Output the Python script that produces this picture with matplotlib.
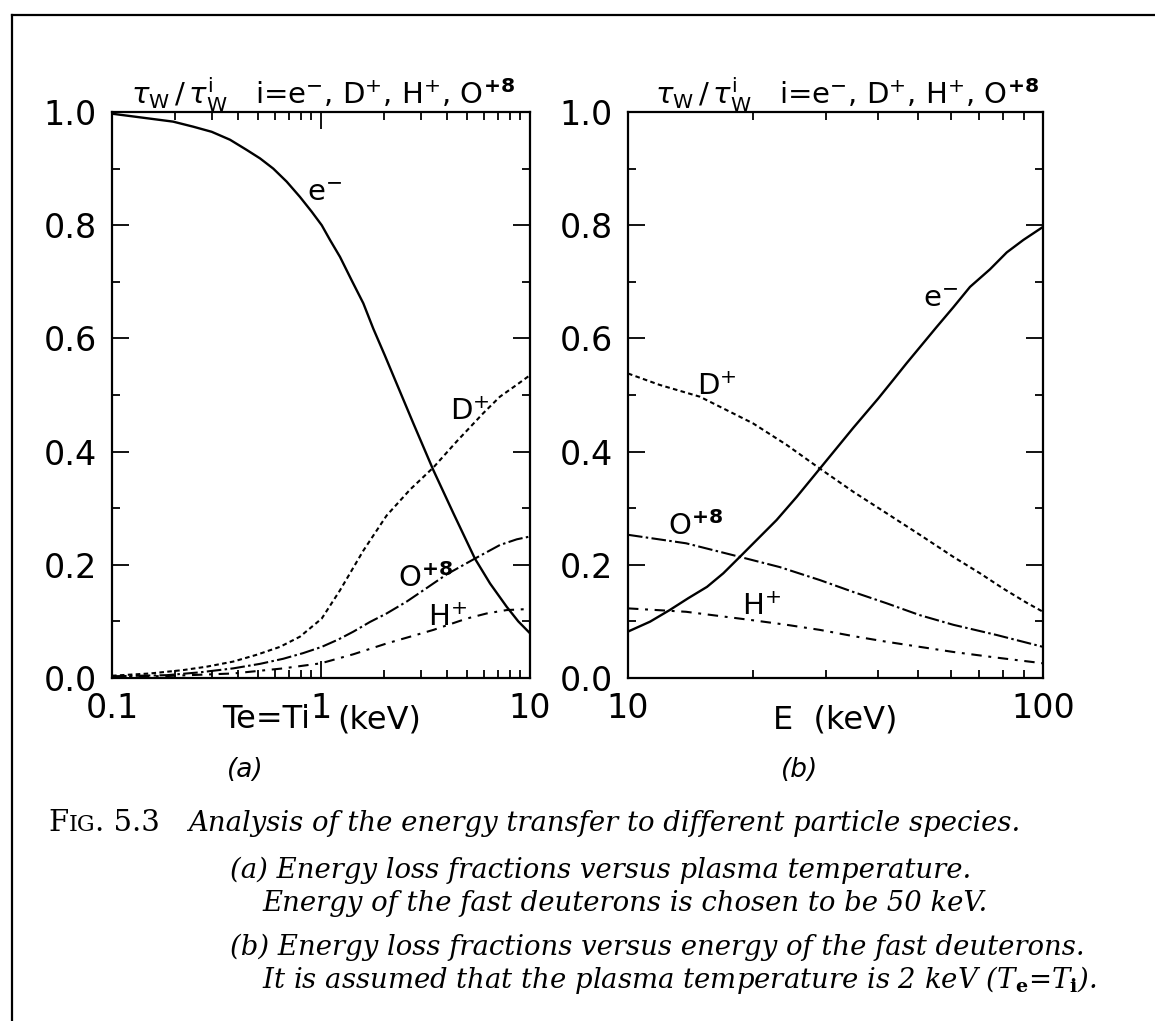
import numpy as np
import matplotlib
matplotlib.use('Agg')
import matplotlib.pyplot as plt
from matplotlib.ticker import MultipleLocator, LogLocator, FixedLocator, FuncFormatter, NullFormatter, FormatStrFormatter
from matplotlib.lines import Line2D

plt.rcParams['font.family'] = 'DejaVu Sans'
plt.rcParams['mathtext.fontset'] = 'dejavusans'

# (a) energy loss fractions vs plasma temperature Te=Ti (keV), E = 50 keV
temp_e = [0.1, 0.196, 0.245, 0.30, 0.367, 0.441, 0.511, 0.591, 0.685, 0.793, 0.902, 1.008,
          1.104, 1.233, 1.40, 1.594, 1.78, 2.02, 2.26, 2.765, 3.45, 4.30, 5.45, 6.44,
          7.73, 8.79, 10.0]
elec_a = [0.997, 0.983, 0.974, 0.965, 0.951, 0.933, 0.918, 0.900, 0.877, 0.850, 0.824, 0.800,
          0.774, 0.744, 0.703, 0.662, 0.617, 0.570, 0.527, 0.450, 0.367, 0.291, 0.211, 0.167,
          0.126, 0.100, 0.079]

temp_d = [0.1, 0.152, 0.219, 0.284, 0.38, 0.492, 0.636, 0.793, 1.008, 1.233, 1.594, 2.06,
          2.67, 3.45, 4.46, 5.98, 7.18, 8.64, 10.0]
deut_a = [0.004, 0.008, 0.014, 0.020, 0.029, 0.041, 0.055, 0.073, 0.105, 0.155, 0.225, 0.287,
          0.333, 0.372, 0.418, 0.468, 0.497, 0.518, 0.535]

temp_o = [0.1, 0.183, 0.263, 0.38, 0.511, 0.66, 0.822, 1.008, 1.21, 1.43, 1.715, 2.06,
          2.57, 3.09, 3.99, 5.45, 7.18, 8.64, 10.0]
oxy_a = [0.003, 0.005, 0.010, 0.017, 0.025, 0.034, 0.044, 0.055, 0.068, 0.082, 0.099, 0.114,
         0.135, 0.155, 0.183, 0.211, 0.235, 0.245, 0.250]

temp_h = [0.1, 0.183, 0.38, 0.66, 1.0, 1.43, 2.06, 2.67, 3.45, 4.98, 6.2, 7.73, 10.0]
hyd_a = [0.002, 0.0035, 0.008, 0.017, 0.026, 0.042, 0.061, 0.073, 0.085, 0.105, 0.114, 0.120, 0.122]

# (b) energy loss fractions vs fast deuteron energy E (keV), T = 2 keV
en_e = [10.0, 11.3, 12.6, 13.97, 15.5, 16.97, 18.6, 22.8, 25.5, 29.0, 34.9, 40.1, 43.6,
        46.9, 55.4, 60.8, 66.7, 74.5, 81.8, 89.7, 100.0]
elec_b = [0.082, 0.0995, 0.120, 0.141, 0.161, 0.185, 0.214, 0.279, 0.320, 0.370, 0.442, 0.494,
          0.527, 0.556, 0.620, 0.655, 0.691, 0.722, 0.752, 0.774, 0.797]

en_d = [10.0, 11.9, 14.9, 20.0, 24.1, 29.0, 34.9, 42.0, 50.5, 60.8, 70.5, 80.2, 91.3, 100.0]
deut_b = [0.538, 0.518, 0.497, 0.450, 0.412, 0.370, 0.329, 0.291, 0.253, 0.214, 0.185, 0.158,
          0.133, 0.117]

en_o = [10.0, 13.8, 18.6, 23.2, 29.0, 34.9, 42.0, 50.5, 60.8, 77.3, 100.0]
oxy_b = [0.253, 0.238, 0.214, 0.196, 0.173, 0.152, 0.132, 0.111, 0.094, 0.076, 0.055]

en_h = [10.0, 13.8, 20.0, 24.1, 29.0, 34.9, 42.0, 50.5, 60.8, 77.3, 100.0]
hyd_b = [0.123, 0.117, 0.102, 0.094, 0.085, 0.074, 0.064, 0.055, 0.046, 0.036, 0.026]

title = (r'$\tau_{\mathrm{W}}\,/\,\tau_{\mathrm{W}}^{\mathrm{i}}$   i=e$^{-}$, '
         r'D$^{+}$, H$^{+}$, O$^{\mathbf{+8}}$')

dash_d = (0, (2.2, 1.6))
dash_o = (0, (7, 1.6, 1.2, 1.6))
dash_h = (0, (5, 3.2, 1.4, 3.2))

W, H = 1155, 1021
fig = plt.figure(figsize=(W / 100, H / 100), dpi=100)


def box(x0, y0, x1, y1):
    return [x0 / W, 1 - y1 / H, (x1 - x0) / W, (y1 - y0) / H]


def style_axes(ax, tx):
    for s in ax.spines.values():
        s.set_linewidth(1.6)
    ax.set_ylim(0, 1)
    ax.yaxis.set_major_locator(MultipleLocator(0.2))
    ax.yaxis.set_minor_locator(MultipleLocator(0.1))
    ax.yaxis.set_major_formatter(FormatStrFormatter('%.1f'))
    ax.xaxis.set_minor_locator(LogLocator(base=10, subs=np.arange(2, 10)))
    ax.xaxis.set_minor_formatter(NullFormatter())
    ax.xaxis.set_major_formatter(FuncFormatter(lambda v, p: '%g' % v))
    ax.tick_params(which='both', direction='in', top=True, right=True,
                   width=1.3, labelsize=24)
    ax.tick_params(which='major', length=12)
    ax.tick_params(which='minor', length=6)
    ax.tick_params(axis='x', which='both', pad=10)
    ax.tick_params(axis='y', which='both', pad=11)
    ax.text(tx, 1.014, title, transform=ax.transAxes, fontsize=21,
            ha='left', va='baseline')


# panel (a)
ax1 = fig.add_axes(box(112, 112, 530, 678))
ax1.set_xscale('log')
ax1.set_xlim(0.1, 10)
ax1.xaxis.set_major_locator(FixedLocator([0.1, 1, 10]))
style_axes(ax1, 0.045)
ax1.plot(temp_e, elec_a, color='black', lw=1.7)
ax1.plot(temp_d, deut_a, color='black', lw=1.5, ls=dash_d)
ax1.plot(temp_o, oxy_a, color='black', lw=1.5, ls=dash_o)
ax1.plot(temp_h, hyd_a, color='black', lw=1.5, ls=dash_h)
ax1.text(0.854, 0.842, r'e$^{-}$', fontsize=21)
ax1.text(4.14, 0.456, r'D$^{+}$', fontsize=21)
ax1.text(2.34, 0.161, r'O$^{\mathbf{+8}}$', fontsize=21)
ax1.text(3.26, 0.091, r'H$^{+}$', fontsize=21)
xt = ax1.get_xaxis_transform()
ax1.text(0.89, -0.046, 'Te=Ti', transform=xt, fontsize=23, ha='right', va='top')
ax1.text(1.2, -0.046, '(keV)', transform=xt, fontsize=23, ha='left', va='top')
ax1.text(0.318, -0.163, '(a)', transform=ax1.transAxes, fontsize=19,
         style='italic', ha='center', va='center')

# panel (b)
ax2 = fig.add_axes(box(628, 112, 1043, 678))
ax2.set_xscale('log')
ax2.set_xlim(10, 100)
ax2.xaxis.set_major_locator(FixedLocator([10, 100]))
style_axes(ax2, 0.065)
ax2.plot(en_e, elec_b, color='black', lw=1.7)
ax2.plot(en_d, deut_b, color='black', lw=1.5, ls=dash_d)
ax2.plot(en_o, oxy_b, color='black', lw=1.5, ls=dash_o)
ax2.plot(en_h, hyd_b, color='black', lw=1.5, ls=dash_h)
ax2.text(51.5, 0.656, r'e$^{-}$', fontsize=21)
ax2.text(14.7, 0.500, r'D$^{+}$', fontsize=21)
ax2.text(12.5, 0.253, r'O$^{\mathbf{+8}}$', fontsize=21)
ax2.text(18.8, 0.111, r'H$^{+}$', fontsize=21)
ax2.text(0.5, -0.046, 'E  (keV)', transform=ax2.transAxes, fontsize=23,
         ha='center', va='top')
ax2.text(0.414, -0.163, '(b)', transform=ax2.transAxes, fontsize=19,
         style='italic', ha='center', va='center')

# frame round the figure
fig.add_artist(Line2D([12 / W, 12 / W], [0, 1 - 15 / H], color='black', lw=1.6))
fig.add_artist(Line2D([12 / W, 1], [1 - 15 / H, 1 - 15 / H], color='black', lw=1.6))

# caption
cap = dict(family='DejaVu Serif', style='italic', fontsize=19.8, va='baseline')
plt.rcParams['mathtext.fontset'] = 'dejavuserif'


def ftext(x, y, s, **kw):
    return fig.text(x / W, 1 - y / H, s, **kw)


renderer = fig.canvas.get_renderer()
x = 48
for piece, size in [('F', 21), ('IG', 16), ('. 5.3', 21)]:
    t = ftext(x, 831, piece, family='DejaVu Serif', fontsize=size, va='baseline')
    x += t.get_window_extent(renderer).width

ftext(188, 831, 'Analysis of the energy transfer to different particle species.', **cap)
ftext(230, 878, '(a) Energy loss fractions versus plasma temperature.', **cap)
ftext(262, 911, 'Energy of the fast deuterons is chosen to be 50 keV.', **cap)
ftext(230, 955, '(b) Energy loss fractions versus energy of the fast deuterons.', **cap)
ftext(262, 988, r'It is assumed that the plasma temperature is 2 keV (T$_{\mathbf{e}}$=T$_{\mathbf{i}}$).', **cap)

fig.savefig('out.png', dpi=100)
